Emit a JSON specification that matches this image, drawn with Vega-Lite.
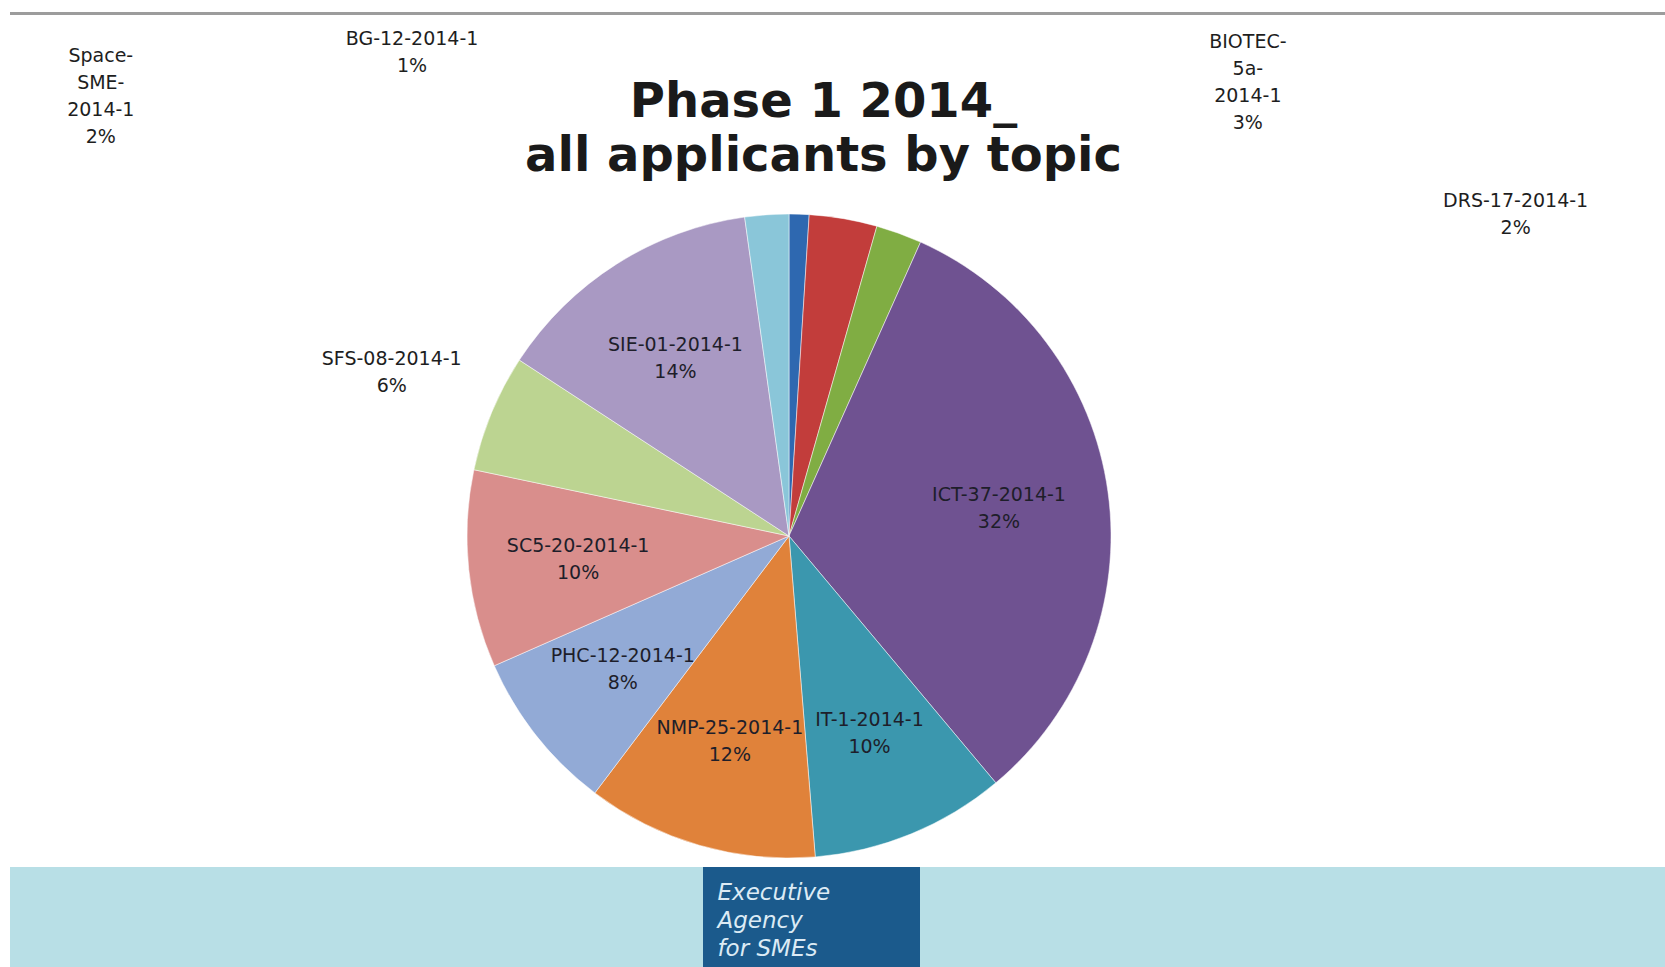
{
  "$schema": "https://vega.github.io/schema/vega-lite/v6.json",
  "padding": {"top": 7, "left": 10, "right": 0, "bottom": 0},
  "background": "#ffffff",
  "config": {"view": {"stroke": null}, "concat": {"spacing": 0}},
  "datasets": {
    "topics": [
      {"topic": "BG-12-2014-1", "share": 1.0, "rank": 1, "label": ["BG-12-2014-1", "1%"]},
      {"topic": "BIOTEC-5a-2014-1", "share": 3.4, "rank": 2, "label": ["BIOTEC-", "5a-", "2014-1", "3%"]},
      {"topic": "DRS-17-2014-1", "share": 2.3, "rank": 3, "label": ["DRS-17-2014-1", "2%"]},
      {"topic": "ICT-37-2014-1", "share": 32.2, "rank": 4, "label": ["ICT-37-2014-1", "32%"]},
      {"topic": "IT-1-2014-1", "share": 9.8, "rank": 5, "label": ["IT-1-2014-1", "10%"]},
      {"topic": "NMP-25-2014-1", "share": 11.6, "rank": 6, "label": ["NMP-25-2014-1", "12%"]},
      {"topic": "PHC-12-2014-1", "share": 8.1, "rank": 7, "label": ["PHC-12-2014-1", "8%"]},
      {"topic": "SC5-20-2014-1", "share": 9.9, "rank": 8, "label": ["SC5-20-2014-1", "10%"]},
      {"topic": "SFS-08-2014-1", "share": 5.9, "rank": 9, "label": ["SFS-08-2014-1", "6%"]},
      {"topic": "SIE-01-2014-1", "share": 13.6, "rank": 10, "label": ["SIE-01-2014-1", "14%"]},
      {"topic": "Space-SME-2014-1", "share": 2.2, "rank": 11, "label": ["Space-", "SME-", "2014-1", "2%"]}
    ],
    "heading": [{"t": ["Phase 1 2014_", "all applicants by topic"]}],
    "agency": [{"t": ["Executive", "Agency", "for SMEs"]}],
    "blank": [{}]
  },
  "bounds": "flush",
  "spacing": 0,
  "vconcat": [
    {
      "width": 1655, "height": 3,
      "view": {"fill": "#9c9c9c", "stroke": null},
      "data": {"name": "blank"},
      "mark": {"type": "text", "text": ""}
    },
    {
      "width": 1655, "height": 190,
      "data": {"name": "heading"},
      "mark": {"type": "text", "font": "DejaVu Sans", "fontWeight": "bold", "fontSize": 48, "lineHeight": 54, "color": "#1a1a1a", "align": "center", "baseline": "middle", "dx": -14, "dy": -7},
      "encoding": {"text": {"field": "t", "type": "nominal"}}
    },
    {
      "width": 1558, "height": 662,
      "data": {"name": "topics"},
      "encoding": {
        "theta": {"field": "share", "type": "quantitative", "stack": true},
        "order": {"field": "rank", "type": "quantitative"}
      },
      "layer": [
        {
          "mark": {"type": "arc", "outerRadius": 322, "stroke": "#ffffff", "strokeWidth": 0.7, "strokeOpacity": 0.7},
          "encoding": {
            "color": {
              "field": "topic", "type": "nominal", "legend": null,
              "scale": {
                "domain": ["BG-12-2014-1", "BIOTEC-5a-2014-1", "DRS-17-2014-1", "ICT-37-2014-1", "IT-1-2014-1", "NMP-25-2014-1", "PHC-12-2014-1", "SC5-20-2014-1", "SFS-08-2014-1", "SIE-01-2014-1", "Space-SME-2014-1"],
                "range": ["#2e68b0", "#c23d3b", "#80ad43", "#6f5291", "#3b97ae", "#e0823a", "#92aad6", "#d98e8c", "#bcd491", "#a999c3", "#8ac6d9"]
              }
            }
          }
        },
        {
          "mark": {"type": "text", "radius": 212, "font": "DejaVu Sans", "fontSize": 19, "lineHeight": 27, "color": "#1e1e2a", "align": "center", "baseline": "middle", "dy": -12},
          "encoding": {"text": {"condition": {"test": "datum.share >= 8", "field": "label"}, "value": ""}}
        },
        {
          "transform": [{"filter": "datum.topic === 'SFS-08-2014-1'"}],
          "mark": {"type": "text", "radius": 430, "thetaOffset": -1.3635, "font": "DejaVu Sans", "fontSize": 19, "lineHeight": 27, "color": "#1e1e1e", "align": "center", "baseline": "middle", "dy": -12},
          "encoding": {"text": {"field": "label", "type": "nominal"}}
        },
        {
          "transform": [{"filter": "datum.topic === 'BG-12-2014-1'"}],
          "mark": {"type": "text", "radius": 624, "thetaOffset": -0.680, "font": "DejaVu Sans", "fontSize": 19, "lineHeight": 27, "color": "#1e1e1e", "align": "center", "baseline": "middle"},
          "encoding": {"text": {"field": "label", "type": "nominal"}}
        },
        {
          "transform": [{"filter": "datum.topic === 'BIOTEC-5a-2014-1'"}],
          "mark": {"type": "text", "radius": 674, "thetaOffset": 0.642, "font": "DejaVu Sans", "fontSize": 19, "lineHeight": 27, "color": "#1e1e1e", "align": "center", "baseline": "middle"},
          "encoding": {"text": {"field": "label", "type": "nominal"}}
        },
        {
          "transform": [{"filter": "datum.topic === 'DRS-17-2014-1'"}],
          "mark": {"type": "text", "radius": 800, "thetaOffset": 1.067, "font": "DejaVu Sans", "fontSize": 19, "lineHeight": 27, "color": "#1e1e1e", "align": "center", "baseline": "middle"},
          "encoding": {"text": {"field": "label", "type": "nominal"}}
        },
        {
          "transform": [{"filter": "datum.topic === 'Space-SME-2014-1'"}],
          "mark": {"type": "text", "radius": 839, "thetaOffset": -1.031, "font": "DejaVu Sans", "fontSize": 19, "lineHeight": 27, "color": "#1e1e1e", "align": "center", "baseline": "middle"},
          "encoding": {"text": {"field": "label", "type": "nominal"}}
        }
      ]
    },
    {
      "bounds": "flush",
      "spacing": 0,
      "hconcat": [
        {
          "width": 693, "height": 105,
          "view": {"fill": "#b8dfe6", "stroke": null},
          "data": {"name": "blank"},
          "mark": {"type": "text", "text": ""}
        },
        {
          "width": 217, "height": 105,
          "view": {"fill": "#1b5a8c", "stroke": null},
          "data": {"name": "agency"},
          "mark": {"type": "text", "font": "DejaVu Sans", "fontStyle": "italic", "fontSize": 23, "lineHeight": 28, "color": "#dcebf5", "align": "left", "baseline": "middle", "dx": -94, "dy": -27},
          "encoding": {"text": {"field": "t", "type": "nominal"}}
        },
        {
          "width": 745, "height": 105,
          "view": {"fill": "#b8dfe6", "stroke": null},
          "data": {"name": "blank"},
          "mark": {"type": "text", "text": ""}
        }
      ]
    }
  ]
}
